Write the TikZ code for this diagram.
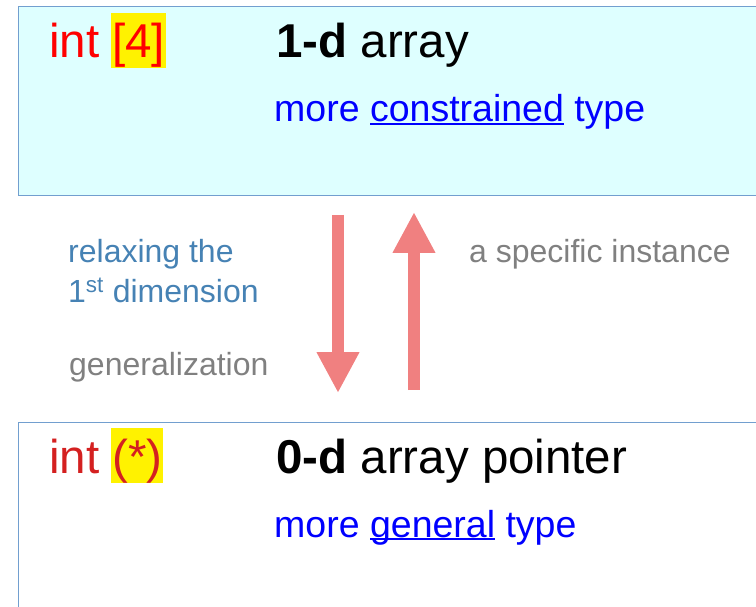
\documentclass[tikz,border=0pt]{standalone}
\usepackage{fontspec}
\setmainfont{Liberation Sans}
\usepackage{xcolor}
\usetikzlibrary{arrows.meta, positioning}

\definecolor{boxline}{HTML}{729FCF}
\definecolor{boxfill}{HTML}{DEFFFF}
\definecolor{typered}{HTML}{D42020}
\definecolor{arrowpink}{HTML}{F08080}
\definecolor{relaxblue}{HTML}{4682B4}

% underline at a fixed depth, crossing descenders
\newcommand{\lineunder}[1]{\setbox0\hbox{#1}\rlap{\rule[-3pt]{\wd0}{1.8pt}}\box0\relax}

\begin{document}
\begin{tikzpicture}[
        x=1pt, y=-1pt,
        panel/.style={draw=boxline, line width=1pt, anchor=north west, minimum width=780pt},
        title/.style={anchor=base west, inner sep=0pt, font=\fontsize{47.5}{54}\selectfont},
        hl/.style={title, fill=yellow, inner xsep=1pt, text height=45pt, text depth=10pt},
        sub/.style={anchor=base west, inner sep=0pt, text=blue, font=\fontsize{37.5}{44}\selectfont},
        note/.style={anchor=base west, inner sep=0pt, font=\fontsize{32}{38}\selectfont},
        bigarrow/.style={arrowpink, line width=12pt, -{Triangle[length=41pt, width=40pt]}}
    ]
        \useasboundingbox (0,0) rectangle (756,607);

        % --- Top: 1-d array ---
        \node[panel, fill=boxfill, minimum height=189pt] (arr1) at (18,6) {};
        \node[title, text=red] (int1) at (49,58) {int};
        \node[hl, text=red] (dim1) at (111,58) {[4]};
        \node[title] (name1) at (276,58) {\textbf{1-d} array};
        \node[sub] (kind1) at (274,122) {more \lineunder{constrained} type};

        % --- Bottom: 0-d array pointer ---
        \node[panel, fill=white, minimum height=300pt] (arr0) at (18,422) {};
        \node[title, text=typered] (int0) at (49,473) {int};
        \node[hl, text=typered] (dim0) at (111,473) {(*)};
        \node[title] (name0) at (276,473) {\textbf{0-d} array pointer};
        \node[sub] (kind0) at (274,537) {more \lineunder{general} type};

        % --- Labels ---
        \node[note, text=relaxblue] (relax) at (68,262) {relaxing the};
        \node[note, text=relaxblue] (dimen) at ([yshift=-40pt]relax.base west) {1\textsuperscript{st} dimension};
        \node[note, text=gray] (general) at (69,375) {generalization};
        \node[note, text=gray] (special) at (469,262) {a specific instance};

        % --- Arrows ---
        \coordinate (downtop) at (338,215);
        \coordinate (downend) at (338,393);
        \coordinate (upbot) at (414,390);
        \coordinate (uptop) at (414,212);
        \draw[bigarrow] (downtop) -- (downend);
        \draw[bigarrow] (upbot) -- (uptop);

    \end{tikzpicture}
\end{document}
